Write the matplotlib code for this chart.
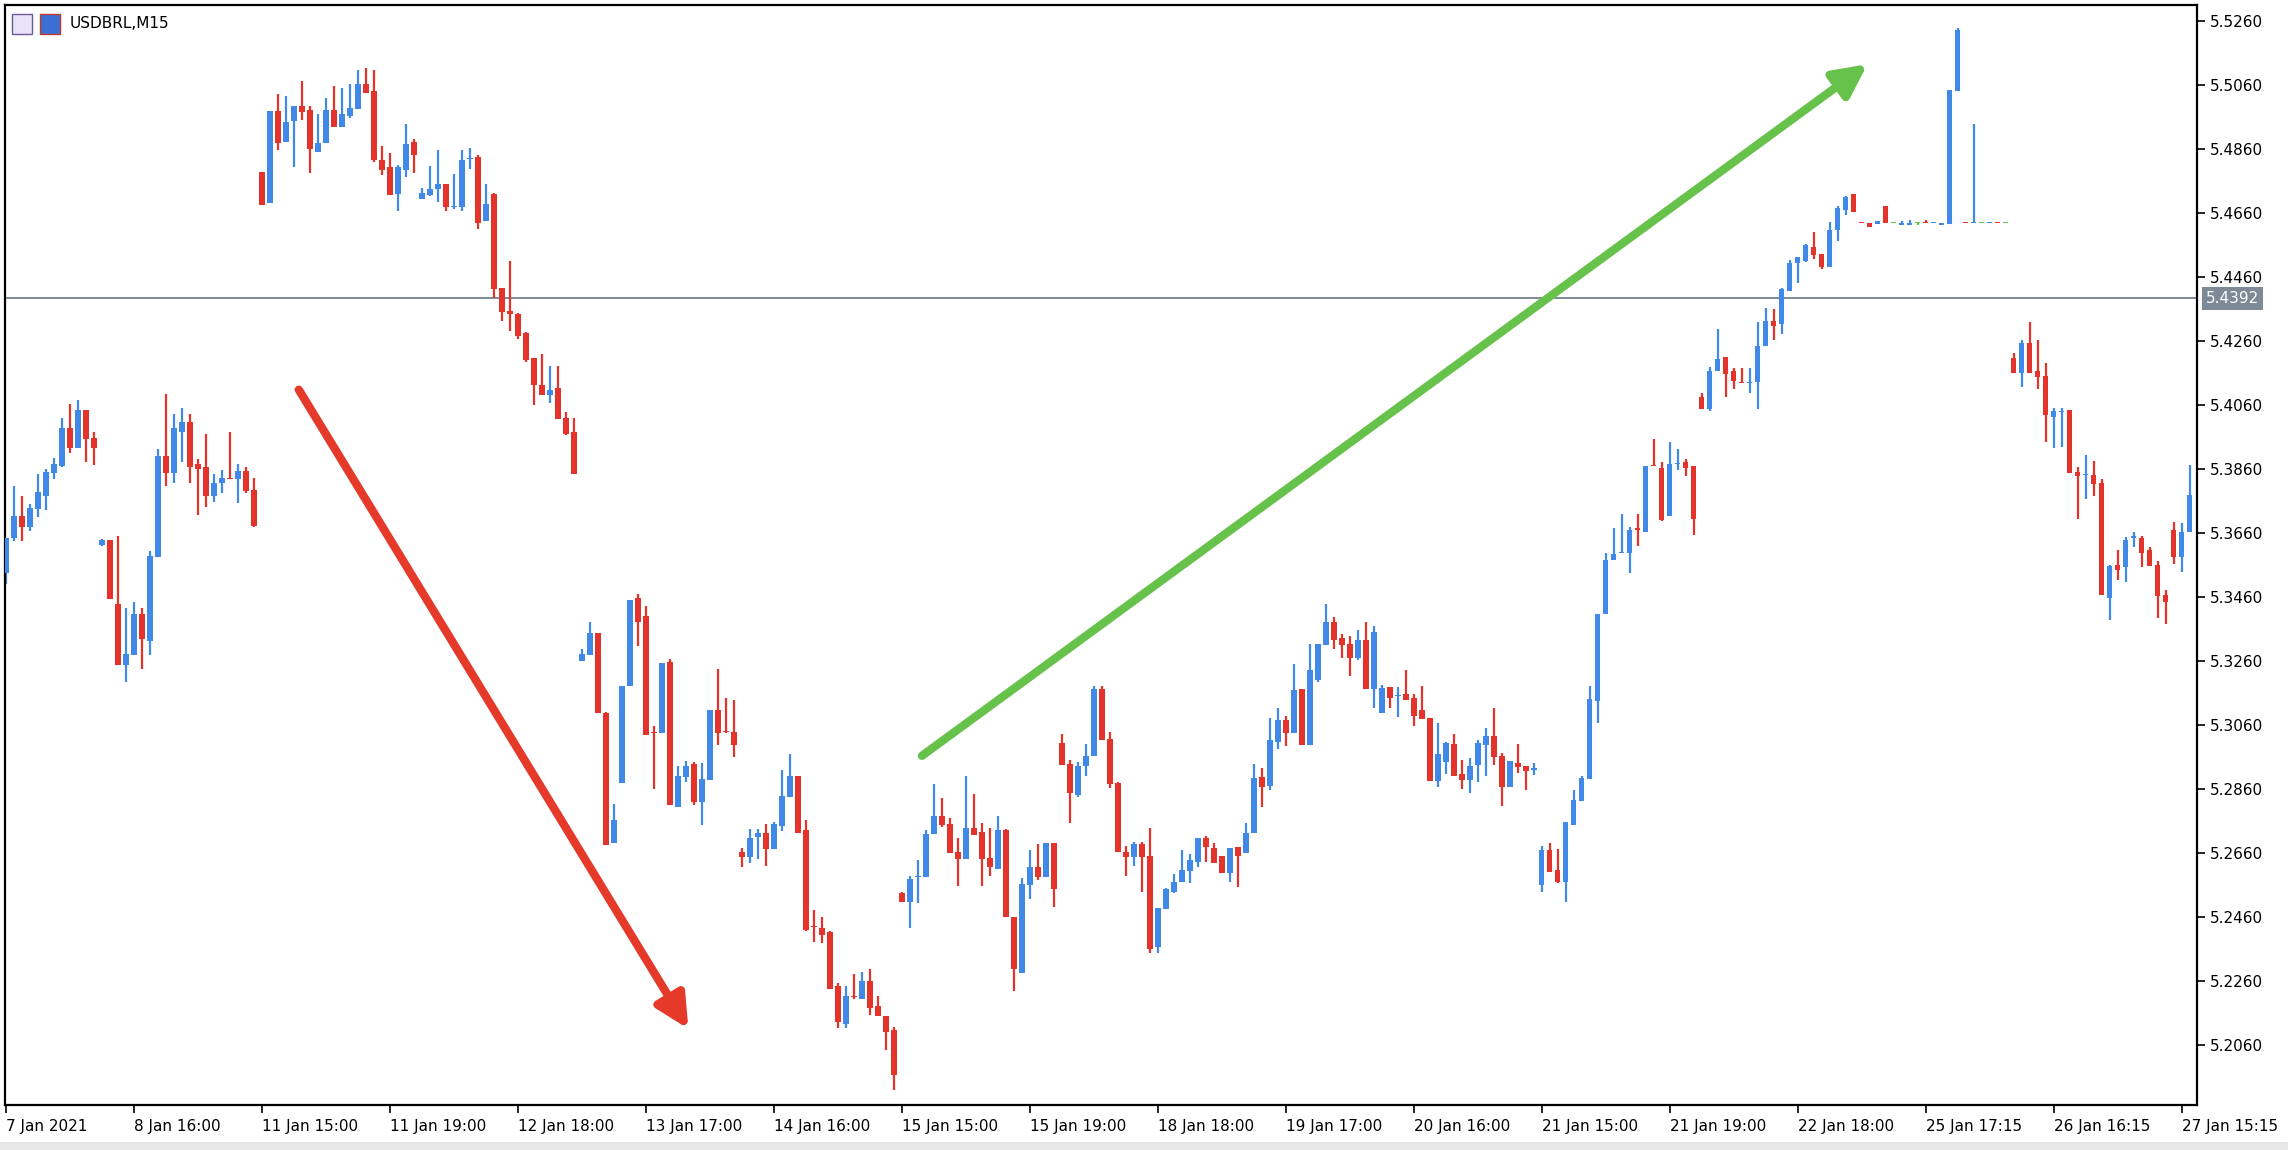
import matplotlib
matplotlib.use("Agg")
import matplotlib.pyplot as plt
from matplotlib.patches import Rectangle
import numpy as np

opens = [5.3534,5.3643,5.3713,5.3677,5.3734,5.3776,5.3846,5.3869,5.3987,5.3926,
5.4044,5.3955,5.3622,5.3638,5.3437,5.3247,5.3278,5.3407,5.3321,5.3584,
5.3900,5.3846,5.3976,5.4007,5.3875,5.3864,5.3775,5.3815,5.3831,5.3827,
5.3854,5.3794,5.4786,5.4690,5.4979,5.4882,5.4945,5.4994,5.4981,5.4851,
5.4877,5.4981,5.4927,5.4963,5.4983,5.5063,5.5039,5.4825,5.4802,5.4719,
5.4794,5.4882,5.4702,5.4716,5.4733,5.4750,5.4679,5.4677,5.4829,5.4833,
5.4633,5.4719,5.4425,5.4354,5.4342,5.4284,5.4205,5.4122,5.4091,5.4112,
5.4019,5.3975,5.3260,5.3278,5.3347,5.3096,5.2690,5.2879,5.3181,5.3455,
5.3399,5.3036,5.3033,5.3257,5.2802,5.2896,5.2939,5.2820,5.2889,5.3106,
5.3039,5.3036,5.2664,5.2647,5.2708,5.2723,5.2671,5.2744,5.2833,5.2900,
5.2731,5.2429,5.2425,5.2413,5.2243,5.2124,5.2210,5.2203,5.2260,5.2181,
5.2149,5.2105,5.2533,5.2507,5.2585,5.2584,5.2720,5.2775,5.2750,5.2664,
5.2640,5.2737,5.2726,5.2643,5.2608,5.2731,5.2460,5.2286,5.2560,5.2617,
5.2584,5.2690,5.3003,5.2937,5.2841,5.2931,5.2962,5.3173,5.3017,5.2877,
5.2663,5.2646,5.2689,5.2650,5.2365,5.2484,5.2539,5.2570,5.2602,5.2632,
5.2705,5.2674,5.2650,5.2596,5.2679,5.2659,5.2721,5.2898,5.2869,5.3007,
5.3075,5.3033,5.3171,5.2997,5.3200,5.3309,5.3382,5.3330,5.3312,5.3270,
5.3325,5.3171,5.3098,5.3177,5.3151,5.3156,5.3145,5.3106,5.3080,5.2883,
5.2945,5.2999,5.2906,5.2889,5.2934,5.2997,5.3025,5.2962,5.2865,5.2942,
5.2930,5.2920,5.2560,5.2669,5.2606,5.2570,5.2747,5.2823,5.2891,5.3134,
5.3406,5.3575,5.3596,5.3597,5.3674,5.3663,5.3870,5.3862,5.3712,5.3876,
5.3880,5.3869,5.4083,5.4046,5.4164,5.4208,5.4164,5.4131,5.4129,5.4130,
5.4242,5.4321,5.4311,5.4414,5.4502,5.4510,5.4554,5.4531,5.4491,5.4606,
5.4668,5.4718,5.4630,5.4629,5.4626,5.4681,5.4629,5.4622,5.4622,5.4629,
5.4632,5.4627,5.4622,5.4625,5.5041,5.4630,5.4627,5.4629,5.4628,5.4630,
5.4629,5.4207,5.4160,5.4253,5.4165,5.4151,5.4022,5.4036,5.4043,5.3851,
5.3839,5.3841,5.3816,5.3457,5.3559,5.3552,5.3645,5.3644,5.3605,5.3559,
5.3464,5.3668,5.3583,5.3661]

closes = [5.3643,5.3713,5.3677,5.3737,5.3786,5.3851,5.3875,5.3987,5.3926,5.4044,
5.3952,5.3926,5.3638,5.3452,5.3247,5.3281,5.3407,5.3328,5.3588,5.3900,
5.3846,5.3987,5.4007,5.3864,5.3858,5.3775,5.3817,5.3830,5.3829,5.3854,
5.3789,5.3681,5.4685,5.4979,5.4877,5.4942,5.4994,5.4976,5.4859,5.4879,
5.4981,5.4927,5.4969,5.4987,5.5063,5.5033,5.4825,5.4794,5.4716,5.4802,
5.4875,5.4841,5.4723,5.4733,5.4750,5.4677,5.4681,5.4825,5.4831,5.4628,
5.4688,5.4422,5.4349,5.4342,5.4276,5.4200,5.4122,5.4091,5.4107,5.4016,
5.3970,5.3843,5.3281,5.3347,5.3096,5.2685,5.2763,5.3181,5.3449,5.3382,
5.3028,5.3034,5.3254,5.2810,5.2900,5.2931,5.2820,5.2892,5.3106,5.3033,
5.3037,5.2997,5.2647,5.2706,5.2723,5.2671,5.2750,5.2837,5.2900,5.2721,
5.2420,5.2427,5.2404,5.2233,5.2132,5.2212,5.2208,5.2260,5.2176,5.2149,
5.2100,5.1965,5.2507,5.2579,5.2588,5.2719,5.2775,5.2747,5.2659,5.2640,
5.2737,5.2716,5.2640,5.2615,5.2731,5.2458,5.2296,5.2563,5.2617,5.2584,
5.2690,5.2546,5.2934,5.2846,5.2931,5.2962,5.3173,5.3014,5.2875,5.2663,
5.2646,5.2689,5.2646,5.2359,5.2487,5.2546,5.2570,5.2606,5.2637,5.2705,
5.2677,5.2627,5.2596,5.2674,5.2650,5.2723,5.2893,5.2865,5.3012,5.3075,
5.3033,5.3169,5.2997,5.3231,5.3312,5.3382,5.3325,5.3309,5.3270,5.3325,
5.3171,5.3351,5.3174,5.3145,5.3153,5.3139,5.3087,5.3077,5.2883,5.2969,
5.3002,5.2900,5.2889,5.2931,5.3002,5.3025,5.2958,5.2865,5.2948,5.2927,
5.2917,5.2922,5.2669,5.2601,5.2570,5.2757,5.2825,5.2893,5.3141,5.3406,
5.3575,5.3594,5.3598,5.3668,5.3668,5.3869,5.3868,5.3700,5.3874,5.3878,
5.3862,5.3703,5.4046,5.4164,5.4204,5.4156,5.4134,5.4129,5.4132,5.4242,
5.4321,5.4307,5.4421,5.4502,5.4522,5.4559,5.4528,5.4491,5.4606,5.4674,
5.4710,5.4663,5.4629,5.4614,5.4635,5.4627,5.4629,5.4629,5.4629,5.4629,
5.4627,5.4629,5.4629,5.5043,5.5231,5.4628,5.4629,5.4629,5.4630,5.4628,
5.4629,5.4160,5.4253,5.4160,5.4147,5.4027,5.4041,5.4038,5.3848,5.3837,
5.3841,5.3813,5.3467,5.3557,5.3544,5.3636,5.3647,5.3597,5.3557,5.3462,
5.3443,5.3583,5.3663,5.3777]

highs = [5.3643,5.3807,5.3775,5.3750,5.3844,5.3859,5.3895,5.4018,5.4062,5.4075,
5.4044,5.3974,5.3640,5.3638,5.3650,5.3424,5.3445,5.3424,5.3602,5.3921,
5.4094,5.4031,5.4049,5.4031,5.3892,5.3969,5.3844,5.3856,5.3976,5.3875,
5.3867,5.3830,5.4786,5.4979,5.5031,5.5025,5.4994,5.5070,5.4994,5.4969,
5.5018,5.5056,5.5049,5.5063,5.5106,5.5111,5.5106,5.4869,5.4848,5.4810,
5.4938,5.4890,5.4737,5.4806,5.4856,5.4750,5.4782,5.4856,5.4862,5.4841,
5.4750,5.4723,5.4425,5.4508,5.4347,5.4286,5.4205,5.4219,5.4181,5.4181,
5.4036,5.4019,5.3298,5.3382,5.3347,5.3100,5.2813,5.3181,5.3449,5.3468,
5.3431,5.3056,5.3254,5.3267,5.2931,5.2948,5.2944,5.2941,5.3106,5.3233,
5.3145,5.3137,5.2674,5.2734,5.2734,5.2750,5.2757,5.2918,5.2968,5.2900,
5.2762,5.2481,5.2460,5.2415,5.2254,5.2243,5.2281,5.2288,5.2298,5.2212,
5.2149,5.2116,5.2538,5.2587,5.2637,5.2731,5.2875,5.2830,5.2768,5.2705,
5.2900,5.2844,5.2754,5.2736,5.2775,5.2735,5.2460,5.2581,5.2669,5.2688,
5.2692,5.2692,5.3031,5.2949,5.2944,5.3000,5.3181,5.3181,5.3038,5.2880,
5.2681,5.2695,5.2695,5.2736,5.2487,5.2549,5.2594,5.2669,5.2656,5.2705,
5.2712,5.2691,5.2650,5.2674,5.2679,5.2754,5.2937,5.2924,5.3080,5.3112,
5.3088,5.3250,5.3171,5.3312,5.3312,5.3437,5.3398,5.3343,5.3337,5.3356,
5.3382,5.3368,5.3184,5.3177,5.3179,5.3231,5.3156,5.3181,5.3080,5.3067,
5.3007,5.3031,5.2950,5.2955,5.3012,5.3049,5.3111,5.2973,5.2948,5.3000,
5.2932,5.2942,5.2681,5.2692,5.2671,5.2757,5.2856,5.2900,5.3182,5.3406,
5.3597,5.3674,5.3718,5.3678,5.3718,5.3869,5.3953,5.3880,5.3943,5.3921,
5.3892,5.3869,5.4098,5.4179,5.4296,5.4208,5.4174,5.4174,5.4174,5.4318,
5.4363,5.4360,5.4424,5.4513,5.4522,5.4562,5.4601,5.4531,5.4632,5.4681,
5.4712,5.4718,5.4630,5.4629,5.4635,5.4681,5.4631,5.4635,5.4637,5.4629,
5.4637,5.4629,5.4629,5.5043,5.5236,5.4630,5.4937,5.4631,5.4630,5.4630,
5.4629,5.4221,5.4263,5.4320,5.4263,5.4189,5.4049,5.4049,5.4043,5.3866,
5.3904,5.3883,5.3827,5.3559,5.3605,5.3647,5.3663,5.3650,5.3615,5.3573,
5.3481,5.3695,5.3689,5.3872]

lows = [5.3500,5.3633,5.3633,5.3664,5.3709,5.3732,5.3827,5.3865,5.3909,5.3926,
5.3882,5.3871,5.3619,5.3452,5.3247,5.3195,5.3278,5.3235,5.3279,5.3584,
5.3806,5.3815,5.3882,5.3815,5.3716,5.3740,5.3757,5.3784,5.3827,5.3752,
5.3784,5.3677,5.4685,5.4690,5.4856,5.4882,5.4802,5.4950,5.4784,5.4851,
5.4877,5.4927,5.4927,5.4955,5.4983,5.5033,5.4817,5.4778,5.4716,5.4664,
5.4771,5.4784,5.4702,5.4713,5.4695,5.4664,5.4671,5.4664,5.4796,5.4609,
5.4633,5.4394,5.4321,5.4290,5.4266,5.4195,5.4059,5.4091,5.4065,5.4016,
5.3967,5.3843,5.3260,5.3278,5.3096,5.2685,5.2690,5.2877,5.3181,5.3306,
5.3028,5.2858,5.3033,5.2810,5.2802,5.2882,5.2810,5.2747,5.2889,5.2997,
5.3033,5.2958,5.2615,5.2627,5.2640,5.2618,5.2671,5.2729,5.2833,5.2721,
5.2415,5.2382,5.2377,5.2233,5.2114,5.2114,5.2203,5.2203,5.2152,5.2149,
5.2045,5.1918,5.2507,5.2426,5.2502,5.2584,5.2720,5.2740,5.2659,5.2557,
5.2640,5.2716,5.2557,5.2587,5.2608,5.2458,5.2227,5.2286,5.2515,5.2575,
5.2584,5.2490,5.2934,5.2752,5.2833,5.2900,5.2962,5.3014,5.2864,5.2663,
5.2587,5.2618,5.2538,5.2347,5.2347,5.2484,5.2533,5.2570,5.2565,5.2615,
5.2632,5.2627,5.2596,5.2570,5.2552,5.2659,5.2721,5.2803,5.2855,5.2983,
5.2994,5.3033,5.2997,5.2997,5.3195,5.3309,5.3296,5.3270,5.3212,5.3262,
5.3171,5.3114,5.3098,5.3114,5.3083,5.3139,5.3056,5.3077,5.2883,5.2865,
5.2907,5.2900,5.2859,5.2846,5.2882,5.2900,5.2934,5.2807,5.2865,5.2908,
5.2855,5.2903,5.2539,5.2601,5.2565,5.2507,5.2747,5.2823,5.2891,5.3067,
5.3406,5.3575,5.3596,5.3535,5.3619,5.3663,5.3868,5.3697,5.3712,5.3855,
5.3836,5.3653,5.4046,5.4039,5.4164,5.4083,5.4109,5.4127,5.4098,5.4046,
5.4242,5.4262,5.4282,5.4414,5.4439,5.4505,5.4514,5.4483,5.4491,5.4573,
5.4653,5.4663,5.4629,5.4614,5.4626,5.4627,5.4627,5.4622,5.4622,5.4622,
5.4627,5.4627,5.4622,5.4625,5.5041,5.4628,5.4627,5.4629,5.4628,5.4628,
5.4629,5.4160,5.4115,5.4160,5.4109,5.3943,5.3925,5.3929,5.3848,5.3703,
5.3766,5.3774,5.3467,5.3386,5.3513,5.3506,5.3615,5.3552,5.3557,5.3393,
5.3375,5.3562,5.3538,5.3661]

xtick_bars = [0,16,32,48,64,80,96,112,128,144,160,176,192,208,224,240,256,272]
xtick_labels = ["7 Jan 2021","8 Jan 16:00","11 Jan 15:00","11 Jan 19:00","12 Jan 18:00",
                "13 Jan 17:00","14 Jan 16:00","15 Jan 15:00","15 Jan 19:00","18 Jan 18:00",
                "19 Jan 17:00","20 Jan 16:00","21 Jan 15:00","21 Jan 19:00","22 Jan 18:00",
                "25 Jan 17:15","26 Jan 16:15","27 Jan 15:15"]
price_ticks = [5.2060,5.2260,5.2460,5.2660,5.2860,5.3060,5.3260,5.3460,5.3660,5.3860,
               5.4060,5.4260,5.4460,5.4660,5.4860,5.5060,5.5260]
current_price = 5.4392
symbol = "USDBRL,M15"
red_arrow = [(36.6, 5.4107), (85.3, 5.2110)]
green_arrow = [(114.5, 5.2963), (232.7, 5.5124)]

BLUE = "#4189e8"; RED = "#e3332a"; GREEN = "#66c24a"
W, H = 2288, 1150
fig = plt.figure(figsize=(W/100, H/100), dpi=100)
ax = fig.add_axes([5/W, 1-1105/H, 2192/W, 1100/H])
ax.set_xlim(-0.125, 273.9)
ax.set_ylim(5.1872, 5.5309)

for i, (o, h, l, c) in enumerate(zip(opens, highs, lows, closes)):
    col = BLUE if c > o else (RED if c < o else GREEN)
    hi = max(h, o, c); lo = min(l, o, c)
    if hi - lo > 1e-6:
        ax.vlines(i, lo, hi, color=col, lw=1.6, zorder=2)
    b = min(o, c); ht = max(abs(c - o), 0.00035)
    ax.add_patch(Rectangle((i - 0.33, b), 0.66, ht, color=col, lw=0, zorder=3))

ax.axhline(current_price, color="#7d8a96", lw=1.4, zorder=1)

for pts, col in ((red_arrow, "#e5392a"), (green_arrow, GREEN)):
    ax.annotate("", xy=pts[1], xytext=pts[0],
                arrowprops=dict(arrowstyle="-|>,head_length=0.9,head_width=0.45",
                                lw=6, color=col, mutation_scale=22, shrinkA=0, shrinkB=0),
                zorder=5)

ax.yaxis.tick_right()
ax.set_yticks(price_ticks)
ax.set_yticklabels([f"{p:.4f}" for p in price_ticks])
ax.set_xticks(xtick_bars)
ax.set_xticklabels(xtick_labels, ha="left")
ax.tick_params(axis="both", labelsize=11, length=6, width=1.2, colors="black", direction="out")
ax.tick_params(axis="x", pad=4)
for s in ax.spines.values():
    s.set_linewidth(1.6)

ax.text(1.004, current_price, f"{current_price:.4f}", transform=ax.get_yaxis_transform(),
        va="center", ha="left", fontsize=11, color="white",
        bbox=dict(boxstyle="square,pad=0.25", fc="#7d8a96", ec="none"), zorder=6)

# header icons and symbol
fig.patches.append(Rectangle((12/W, 1-34/H), 20/W, 20/H, transform=fig.transFigure,
                             fc="#e9e4f5", ec="#6a5a9a", lw=1))
fig.patches.append(Rectangle((40/W, 1-34/H), 20/W, 20/H, transform=fig.transFigure,
                             fc="#3b6fd6", ec="#c0392b", lw=1))
fig.text(70/W, 1-24/H, symbol, fontsize=11, va="center", ha="left")
fig.patches.append(Rectangle((0, 0), 1, 8/H, transform=fig.transFigure, fc="#e6e6e6", ec="none"))

fig.savefig("out.png", dpi=100, facecolor="white")
